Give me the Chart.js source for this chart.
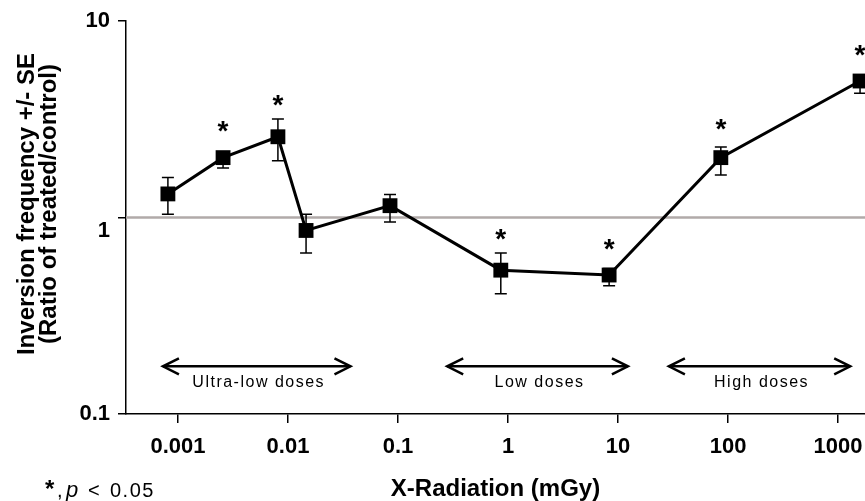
<!DOCTYPE html>
<html>
<head>
    <title>Inversion frequency vs X-radiation dose</title>
    <script src="https://cdnjs.cloudflare.com/ajax/libs/Chart.js/4.4.0/chart.umd.min.js"></script>
    <style>
        body { margin: 0; background: #fff; }
        .chart-container {
            width: 865px;
            height: 501px;
            position: relative;
        }
    </style>
</head>
<body>
    <div class="chart-container">
        <canvas id="myChart"></canvas>
    </div>

    <script>
        // dose in mGy, ratio treated/control and its SE bounds
        const doses   = [0.00081, 0.00257, 0.0081, 0.0146, 0.0846, 0.86, 8.3, 86, 1585];
        const ratios  = [1.32, 2.02, 2.58, 0.86, 1.15, 0.54, 0.51, 2.02, 4.96];
        const errLow  = [1.04, 1.79, 1.95, 0.66, 0.95, 0.41, 0.45, 1.65, 4.30];
        const errHigh = [1.60, 2.15, 3.18, 1.04, 1.31, 0.66, 0.55, 2.29, 5.30];
        const significant = [false, true, true, false, false, true, true, true, true];

        const xTicks = [0.001, 0.01, 0.1, 1, 10, 100, 1000];
        const yTicks = [0.1, 1, 10];

        const rangeLabels = ['Ultra-low doses', 'Low doses', 'High doses'];
        const rangeFrom   = [0.00073, 0.28, 29];
        const rangeTo     = [0.037, 12.3, 1290];
        const rangeLevel  = 0.175;

        const xMin = 0.000337, xMax = 1758;
        const FONT = 'Arial, "Liberation Sans", sans-serif';

        function arrowHead(ctx, x, y, dir) {
            ctx.beginPath();
            ctx.moveTo(x + dir * 16, y - 8);
            ctx.lineTo(x, y);
            ctx.lineTo(x + dir * 16, y + 8);
            ctx.stroke();
        }

        const annotations = {
            id: 'annotations',
            beforeDatasetDraw(chart, args) {
                if (args.index !== 0) return;
                const {ctx, scales: {x, y}} = chart;
                ctx.save();
                ctx.strokeStyle = '#000';
                ctx.lineWidth = 1.5;
                doses.forEach((d, i) => {
                    const px = x.getPixelForValue(d);
                    const top = y.getPixelForValue(errHigh[i]);
                    const bot = y.getPixelForValue(errLow[i]);
                    ctx.beginPath();
                    ctx.moveTo(px, top); ctx.lineTo(px, bot);
                    ctx.moveTo(px - 6, top); ctx.lineTo(px + 6, top);
                    ctx.moveTo(px - 6, bot); ctx.lineTo(px + 6, bot);
                    ctx.stroke();
                });
                ctx.restore();
            },
            afterDatasetsDraw(chart) {
                const {ctx, scales: {x, y}} = chart;
                ctx.save();
                ctx.fillStyle = '#000';

                // significance stars
                ctx.font = 'bold 28px ' + FONT;
                ctx.textAlign = 'center';
                ctx.textBaseline = 'middle';
                doses.forEach((d, i) => {
                    if (!significant[i]) return;
                    const px = x.getPixelForValue(d);
                    const top = Math.min(y.getPixelForValue(errHigh[i]), y.getPixelForValue(ratios[i]) - 7);
                    const mid = y.getPixelForValue(ratios[i]) - 34;
                    ctx.fillText('*', px, (top - 14 + mid + 5) / 2);
                });

                // dose range arrows
                ctx.strokeStyle = '#000';
                ctx.lineWidth = 2.5;
                ctx.font = '16px ' + FONT;
                ctx.letterSpacing = '1.5px';
                const ay = y.getPixelForValue(rangeLevel);
                rangeLabels.forEach((lab, i) => {
                    const x0 = x.getPixelForValue(rangeFrom[i]);
                    const x1 = x.getPixelForValue(rangeTo[i]);
                    ctx.beginPath();
                    ctx.moveTo(x0, ay); ctx.lineTo(x1, ay);
                    ctx.stroke();
                    arrowHead(ctx, x0, ay, 1);
                    arrowHead(ctx, x1, ay, -1);
                    ctx.fillText(lab, (x0 + x1) / 2 + 2, ay + 16);
                });
                ctx.letterSpacing = '0px';

                // y axis title
                ctx.save();
                ctx.translate(0, 204);
                ctx.rotate(-Math.PI / 2);
                ctx.font = 'bold 24px ' + FONT;
                ctx.fillText('Inversion frequency +/- SE', 0, 27);
                ctx.fillText('(Ratio of treated/control)', 0, 49);
                ctx.restore();

                // footnote
                ctx.textAlign = 'left';
                ctx.textBaseline = 'alphabetic';
                ctx.font = 'bold 24px ' + FONT;
                ctx.fillText('*', 45, 497);
                ctx.font = '20px ' + FONT;
                ctx.fillText(',', 57, 497);
                ctx.font = 'italic 22px ' + FONT;
                ctx.fillText('p', 66, 497);
                ctx.font = '20px ' + FONT;
                ctx.fillText('<', 88, 497);
                ctx.letterSpacing = '1.5px';
                ctx.fillText('0.05', 110, 497);
                ctx.restore();
            }
        };

        const ctx = document.getElementById('myChart');

        new Chart(ctx, {
            type: 'scatter',
            data: {
                datasets: [{
                    label: 'Inversion frequency',
                    data: doses.map((d, i) => ({x: d, y: ratios[i]})),
                    showLine: true,
                    borderColor: '#000',
                    borderWidth: 3,
                    backgroundColor: '#000',
                    pointStyle: 'rect',
                    pointRadius: 10.5,
                    pointBorderWidth: 0,
                    clip: false,
                    order: 1
                }, {
                    label: 'Control level',
                    data: [{x: xMin, y: 1}, {x: xMax, y: 1}],
                    showLine: true,
                    borderColor: '#b1aaa9',
                    borderWidth: 2.5,
                    pointRadius: 0,
                    order: 2
                }]
            },
            plugins: [annotations],
            options: {
                responsive: true,
                maintainAspectRatio: false,
                animation: false,
                layout: { autoPadding: false, padding: { top: 20, right: 0, bottom: 0, left: 0 } },
                plugins: {
                    legend: { display: false },
                    tooltip: { enabled: false }
                },
                scales: {
                    x: {
                        type: 'logarithmic',
                        min: xMin,
                        max: xMax,
                        bounds: 'data',
                        afterBuildTicks: (scale) => { scale.ticks = xTicks.map(v => ({value: v})); },
                        afterFit: (scale) => {
                            scale.height = 87;
                            scale.paddingLeft = 0;
                            scale.paddingRight = 0;
                        },
                        grid: { drawOnChartArea: false, color: '#000', lineWidth: 1.5, tickLength: 9 },
                        border: { color: '#000', width: 1.5 },
                        ticks: {
                            color: '#000',
                            padding: 11,
                            maxRotation: 0,
                            autoSkip: false,
                            font: { family: FONT, size: 22, weight: 'bold' },
                            callback: (v) => String(v)
                        },
                        title: {
                            display: true,
                            text: 'X-Radiation (mGy)',
                            color: '#000',
                            font: { family: FONT, size: 24, weight: 'bold', lineHeight: 1 },
                            padding: { top: 0, bottom: 0 }
                        }
                    },
                    y: {
                        type: 'logarithmic',
                        min: 0.1,
                        max: 10,
                        bounds: 'data',
                        afterBuildTicks: (scale) => { scale.ticks = yTicks.map(v => ({value: v})); },
                        afterFit: (scale) => { scale.width = 126; },
                        grid: { drawOnChartArea: false, color: '#000', lineWidth: 1.5, tickLength: 8 },
                        border: { color: '#000', width: 1.5 },
                        ticks: {
                            color: '#000',
                            padding: 8,
                            autoSkip: false,
                            font: { family: FONT, size: 22, weight: 'bold' },
                            callback: (v) => v === 1 ? ['', '1'] : String(v)
                        }
                    }
                }
            }
        });
    </script>
</body>
</html>
